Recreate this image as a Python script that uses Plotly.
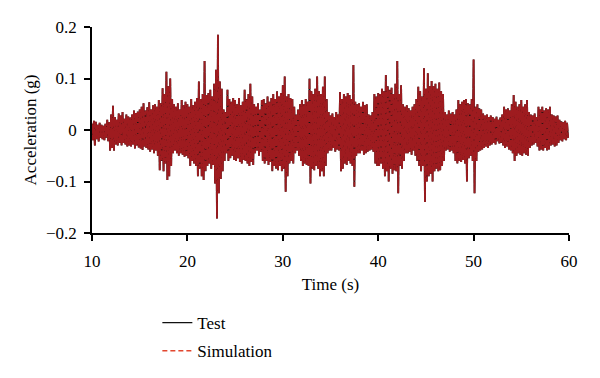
import numpy as np
import plotly.graph_objects as go

# Envelope peaks, one positive and one negative peak per 0.2 s (10.0 s ... 59.8 s)
upper_peaks = [
    0.012, 0.018, 0.016, 0.010, 0.014,
    0.010, 0.008, 0.012, 0.020, 0.015,
    0.030, 0.047, 0.025, 0.020, 0.032,
    0.028, 0.035, 0.022, 0.030, 0.026,
    0.024, 0.030, 0.038, 0.033, 0.036,
    0.040, 0.045, 0.052, 0.038, 0.044,
    0.054, 0.040, 0.048, 0.050, 0.045,
    0.058, 0.052, 0.081, 0.070, 0.113,
    0.085, 0.100, 0.060, 0.050, 0.045,
    0.052, 0.040, 0.058, 0.048, 0.055,
    0.050, 0.045, 0.060, 0.048, 0.055,
    0.062, 0.094, 0.060, 0.070, 0.134,
    0.068, 0.072, 0.078, 0.065, 0.090,
    0.117, 0.185, 0.094, 0.080, 0.040,
    0.035, 0.078, 0.060, 0.055, 0.062,
    0.058, 0.050, 0.062, 0.048, 0.055,
    0.078, 0.060, 0.070, 0.090, 0.065,
    0.050, 0.045, 0.052, 0.040, 0.058,
    0.060, 0.052, 0.065, 0.055, 0.062,
    0.070, 0.060, 0.075, 0.065, 0.072,
    0.087, 0.104, 0.065, 0.070, 0.062,
    0.060, 0.045, 0.030, 0.040, 0.050,
    0.058, 0.050, 0.060, 0.055, 0.100,
    0.075, 0.070, 0.080, 0.104, 0.075,
    0.070, 0.084, 0.104, 0.060, 0.035,
    0.028, 0.032, 0.025, 0.035, 0.030,
    0.074, 0.060, 0.070, 0.065, 0.072,
    0.068, 0.060, 0.126, 0.055, 0.050,
    0.052, 0.045, 0.055, 0.048, 0.050,
    0.030, 0.028, 0.035, 0.070, 0.065,
    0.072, 0.070, 0.080, 0.075, 0.107,
    0.085, 0.078, 0.082, 0.070, 0.090,
    0.134, 0.070, 0.087, 0.050, 0.045,
    0.048, 0.042, 0.038, 0.045, 0.050,
    0.060, 0.084, 0.075, 0.065, 0.120,
    0.080, 0.110, 0.085, 0.095, 0.085,
    0.090, 0.080, 0.092, 0.075, 0.070,
    0.035, 0.030, 0.038, 0.032, 0.035,
    0.030, 0.040, 0.058, 0.050, 0.055,
    0.058, 0.060, 0.052, 0.050, 0.060,
    0.137, 0.045, 0.050, 0.042, 0.040,
    0.032, 0.028, 0.030, 0.025, 0.028,
    0.025, 0.022, 0.026, 0.020, 0.024,
    0.030, 0.045, 0.040, 0.042, 0.038,
    0.050, 0.068, 0.055, 0.045, 0.050,
    0.058, 0.045, 0.050, 0.058, 0.035,
    0.030, 0.028, 0.032, 0.025, 0.045,
    0.040, 0.045, 0.038, 0.042, 0.040,
    0.045, 0.030, 0.028, 0.026, 0.028,
    0.020, 0.017, 0.015, 0.018, 0.014,
]

lower_peaks = [
    -0.020, -0.030, -0.018, -0.022, -0.015,
    -0.018, -0.020, -0.015, -0.022, -0.040,
    -0.035, -0.040, -0.028, -0.030, -0.025,
    -0.030, -0.025, -0.028, -0.032, -0.030,
    -0.032, -0.028, -0.036, -0.030, -0.034,
    -0.036, -0.039, -0.032, -0.035, -0.038,
    -0.042, -0.038, -0.045, -0.040, -0.050,
    -0.078, -0.060, -0.080, -0.065, -0.097,
    -0.090, -0.070, -0.045, -0.040, -0.045,
    -0.050, -0.045, -0.048, -0.052, -0.050,
    -0.055, -0.070, -0.060, -0.065, -0.070,
    -0.090, -0.075, -0.090, -0.097, -0.080,
    -0.070, -0.065, -0.075, -0.068, -0.104,
    -0.172, -0.123, -0.095, -0.080, -0.060,
    -0.045, -0.060, -0.055, -0.050, -0.058,
    -0.060, -0.055, -0.062, -0.065, -0.058,
    -0.060, -0.065, -0.070, -0.062, -0.068,
    -0.045, -0.040, -0.050, -0.042, -0.060,
    -0.065, -0.060, -0.068, -0.062, -0.080,
    -0.070, -0.075, -0.078, -0.070, -0.080,
    -0.075, -0.120, -0.090, -0.065, -0.060,
    -0.065, -0.045, -0.040, -0.050, -0.060,
    -0.070, -0.065, -0.068, -0.070, -0.104,
    -0.075, -0.078, -0.070, -0.075, -0.090,
    -0.080, -0.090, -0.070, -0.045, -0.040,
    -0.040, -0.035, -0.042, -0.038, -0.040,
    -0.080, -0.075, -0.065, -0.068, -0.060,
    -0.065, -0.070, -0.110, -0.050, -0.045,
    -0.045, -0.040, -0.048, -0.045, -0.042,
    -0.040, -0.038, -0.042, -0.065, -0.070,
    -0.070, -0.065, -0.075, -0.090, -0.080,
    -0.100, -0.075, -0.085, -0.078, -0.080,
    -0.123, -0.070, -0.075, -0.060, -0.045,
    -0.045, -0.042, -0.048, -0.040, -0.050,
    -0.060, -0.070, -0.080, -0.070, -0.140,
    -0.100, -0.090, -0.085, -0.100, -0.080,
    -0.075, -0.080, -0.078, -0.070, -0.060,
    -0.040, -0.038, -0.042, -0.040, -0.045,
    -0.060, -0.065, -0.060, -0.062, -0.058,
    -0.065, -0.100, -0.055, -0.050, -0.060,
    -0.123, -0.060, -0.042, -0.040, -0.038,
    -0.035, -0.032, -0.035, -0.030, -0.028,
    -0.025, -0.028, -0.022, -0.026, -0.025,
    -0.030, -0.035, -0.032, -0.038, -0.040,
    -0.045, -0.060, -0.050, -0.045, -0.048,
    -0.050, -0.045, -0.048, -0.050, -0.035,
    -0.030, -0.028, -0.025, -0.032, -0.040,
    -0.038, -0.040, -0.035, -0.040, -0.038,
    -0.030, -0.028, -0.032, -0.030, -0.025,
    -0.020, -0.022, -0.018, -0.020, -0.015,
]

start_time = 10.0
sample_step = 0.1
x_ticks = [10, 20, 30, 40, 50, 60]
y_ticks = [-0.2, -0.1, 0, 0.1, 0.2]
y_tick_labels = ["\u22120.2", "\u22120.1", "0", "0.1", "0.2"]

# interleave positive/negative peaks into the oscillating record
accel = np.empty(len(upper_peaks) * 2)
accel[0::2] = upper_peaks
accel[1::2] = lower_peaks
time = start_time + sample_step * np.arange(len(accel))

FONT = "Liberation Serif"

fig = go.Figure()
fig.add_trace(go.Scatter(x=time, y=accel, mode="lines", name="Test", legendgroup="a",
                         showlegend=False,
                         line=dict(color="#111111", width=1.8, simplify=False)))
fig.add_trace(go.Scatter(x=time, y=accel, mode="lines", name="Simulation", legendgroup="b",
                         showlegend=False,
                         line=dict(color="#9e1b1f", width=1.8, dash="10px,1px", simplify=False)))
# legend keys (thin lines as drawn in the key)
fig.add_trace(go.Scatter(x=[None], y=[None], mode="lines", name="Test", legendgroup="a",
                         line=dict(color="#111111", width=1.2)))
fig.add_trace(go.Scatter(x=[None], y=[None], mode="lines", name="Simulation", legendgroup="b",
                         line=dict(color="#e2472f", width=1.5, dash="5px,3px")))

axis_common = dict(showline=True, linecolor="black", linewidth=1.5,
                   ticks="outside", ticklen=6, tickwidth=1.5, tickcolor="black",
                   showgrid=False, zeroline=False, automargin=False,
                   tickfont=dict(family=FONT, size=17, color="black"))

fig.update_layout(
    width=600, height=378,
    paper_bgcolor="white", plot_bgcolor="white",
    margin=dict(l=84, r=39, t=19, b=153),
    font=dict(family=FONT, size=17, color="black"),
    xaxis=dict(range=[10, 60], tickvals=x_ticks, ticklabelstandoff=6,
               title=dict(text="Time (s)", font=dict(family=FONT, size=17), standoff=8),
               **axis_common),
    yaxis=dict(range=[-0.2, 0.2], tickvals=y_ticks, ticktext=y_tick_labels,
               ticklabelstandoff=4,
               title=dict(text="Acceleration (g)", font=dict(family=FONT, size=17), standoff=5),
               **axis_common),
    legend=dict(x=0.137, y=-0.35, xanchor="left", yanchor="top",
                font=dict(family=FONT, size=17), bgcolor="rgba(0,0,0,0)",
                tracegroupgap=3),
    showlegend=True,
)

fig.write_html("out.html")
